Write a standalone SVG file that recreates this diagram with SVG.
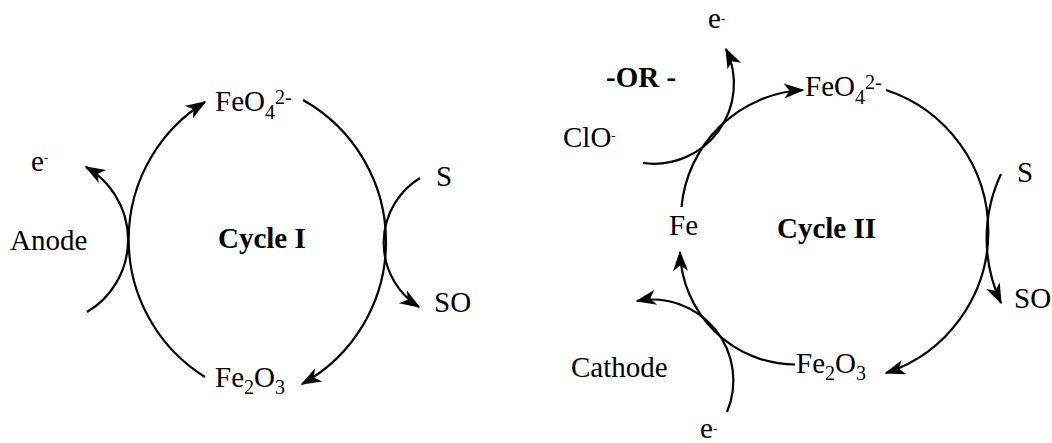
<svg xmlns="http://www.w3.org/2000/svg" width="1052" height="443" viewBox="0 0 1052 443">
<defs>
<style>
.t{font-family:"Liberation Serif","Times New Roman",serif;font-size:29px;fill:#000}
.b{font-weight:bold}
.s{font-size:20px}
.m{font-size:13px}
.c{fill:none;stroke:#000;stroke-width:2.2;marker-end:url(#ah)}
</style>
<marker id="ah" markerUnits="userSpaceOnUse" viewBox="-22 -9 24 18" markerWidth="24" markerHeight="18" refX="0" refY="0" orient="auto">
<path d="M1.5,0 L-19,-7.5 L-13.5,0 L-19,7.5 Z" fill="#000"/>
</marker>
</defs>
<rect width="1052" height="443" fill="#fff"/>
<g id="connectors">
<path class="c" d="M205 377 A162 162 0 0 1 205 102"/>
<path class="c" d="M303 100 A162.5 162.5 0 0 1 302 384"/>
<path class="c" d="M87 312 A84 84 0 0 0 86 167"/>
<path class="c" d="M420 178 A76 76 0 0 0 419 307"/>
<path class="c" d="M643 163 A80 80 0 0 0 726 49"/>
<path class="c" d="M681.5 207 A129 129 0 0 1 803 90"/>
<path class="c" d="M886 90 A149 149 0 0 1 886 373"/>
<path class="c" d="M795 364.5 A116 116 0 0 1 680 252"/>
<path class="c" d="M727 412 A81 81 0 0 0 637 301"/>
<path class="c" d="M1001 174 A152 152 0 0 0 1001 303"/>
</g>
<g id="cycle1-feo4"><text class="t" x="215" y="111">FeO<tspan class="s" dy="7.5">4</tspan><tspan class="s" dy="-15">2-</tspan></text></g>
<g id="cycle1-e"><text class="t" x="31" y="170.5">e<tspan class="m" dy="-9">-</tspan></text></g>
<g id="cycle1-anode"><text class="t" x="10" y="250">Anode</text></g>
<g id="cycle1-label"><text class="t b" x="218" y="248">Cycle I</text></g>
<g id="cycle1-s"><text class="t" x="436" y="185.5">S</text></g>
<g id="cycle1-so"><text class="t" x="434" y="311.5">SO</text></g>
<g id="cycle1-fe2o3"><text class="t" x="215" y="386.5">Fe<tspan class="s" dy="7">2</tspan><tspan dy="-7">O</tspan><tspan class="s" dy="7">3</tspan></text></g>
<g id="cycle2-e-top"><text class="t" x="708" y="28">e<tspan class="m" dy="-5">-</tspan></text></g>
<g id="cycle2-or"><text class="t b" x="606" y="87">-OR -</text></g>
<g id="cycle2-clo"><text class="t" x="563" y="146.5">ClO<tspan class="m" dy="-6.5">-</tspan></text></g>
<g id="cycle2-feo4"><text class="t" x="805" y="96">FeO<tspan class="s" dy="7.5">4</tspan><tspan class="s" dy="-15">2-</tspan></text></g>
<g id="cycle2-s"><text class="t" x="1017" y="181.5">S</text></g>
<g id="cycle2-fe"><text class="t" x="669" y="235">Fe</text></g>
<g id="cycle2-label"><text class="t b" x="777" y="238">Cycle II</text></g>
<g id="cycle2-so"><text class="t" x="1014" y="308">SO</text></g>
<g id="cycle2-cathode"><text class="t" x="571" y="376.5">Cathode</text></g>
<g id="cycle2-fe2o3"><text class="t" x="796" y="373.3">Fe<tspan class="s" dy="7">2</tspan><tspan dy="-7">O</tspan><tspan class="s" dy="7">3</tspan></text></g>
<g id="cycle2-e-bottom"><text class="t" x="700" y="438">e<tspan class="m" dy="-5">-</tspan></text></g>
</svg>
